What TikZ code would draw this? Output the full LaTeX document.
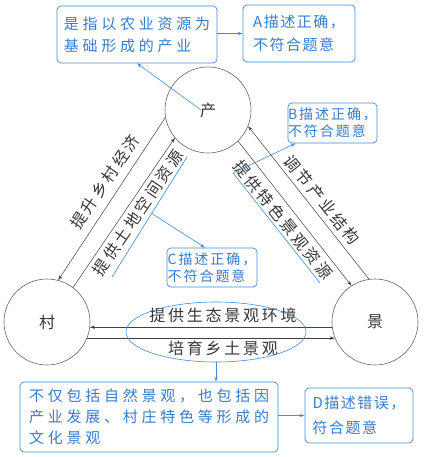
\documentclass[tikz,border=0pt]{standalone}
\usepackage{fontspec}
\setmainfont{Noto Sans CJK SC}
\newfontfamily\lblfont[LetterSpace=17]{Noto Sans CJK SC}
\newfontfamily\bigboxfont[LetterSpace=25]{Noto Sans CJK SC}
\newfontfamily\midboxfont[LetterSpace=10]{Noto Sans CJK SC}
\newfontfamily\smallboxfont[LetterSpace=14]{Noto Sans CJK SC}
\usetikzlibrary{shapes.geometric,arrows.meta,calc}
\definecolor{bl}{RGB}{70,140,215}
\definecolor{bltext}{RGB}{55,125,205}
\definecolor{dk}{RGB}{55,55,55}
\begin{document}
\begin{tikzpicture}[x=1pt,y=-1pt,
  circ/.style={circle,draw=black!60,line width=0.6pt,minimum size=86pt,inner sep=0pt,
    font=\fontsize{16}{16}\selectfont,text=dk},
  conn/.style={draw=black!75,line width=0.5pt,-{Stealth[length=5pt,width=3.2pt]}},
  elbl/.style={font=\lblfont\fontsize{16}{16}\selectfont,text=dk,inner sep=0pt},
  bbox/.style={draw=bl,line width=0.7pt,rounded corners=4pt,align=left,text=bltext,inner sep=0pt},
  bigtxt/.style={font=\bigboxfont\fontsize{15}{22}\selectfont},
  midtxt/.style={font=\midboxfont\fontsize{15}{23}\selectfont},
  smalltxt/.style={font=\smallboxfont\fontsize{14}{17}\selectfont},
  barrow/.style={draw=bl,line width=0.6pt,-{Stealth[length=5pt,width=3.2pt]}},
  bline/.style={draw=bl,line width=0.6pt}
]
\path[use as bounding box,fill=white] (0,0) rectangle (427,457);

% circles
\node[circ] (chan) at (208,110) {产};
\node[circ] (cun) at (47,322) {村};
\node[circ] (jing) at (375,322) {景};

% connectors between circles
\draw[conn] (chan.190) -- (cun.75);
\draw[conn] (cun.53) -- (chan.220);
\draw[conn] (jing.98) -- (chan.338);
\draw[conn] (chan.314) -- (jing.123);
\draw[conn] (jing.187) -- (cun.353);
\draw[conn] (cun.338) -- (jing.202);

% edge labels
\node[elbl,rotate=56] (l1) at (105,182) {提升乡村经济};
\node[elbl,rotate=56] (l2) at (138,213) {提供土地空间资源};
\node[elbl,rotate=-51] (l3) at (322,200) {调节产业结构};
\node[elbl,rotate=-51] (l4) at (283,220) {提供特色景观资源};
\node[elbl] (l5) at (223,315) {提供生态景观环境};
\node[elbl] (l6) at (223,348) {培育乡土景观};

% ellipse
\node[ellipse,draw=bl,line width=0.6pt,minimum width=180pt,minimum height=60pt] (ell) at (216,332) {};

% boxes
\node[bbox,bigtxt,minimum width=160pt,minimum height=57pt] (b1) at (137,34.5) {是指以农业资源为\\基础形成的产业};
\node[bbox,midtxt,minimum width=112pt,minimum height=57pt] (ba) at (299,33.5) {A描述正确，\\不符合题意};
\node[bbox,smalltxt,minimum width=89pt,minimum height=40pt] (bb) at (332.5,123) {B描述正确，\\不符合题意};
\node[bbox,smalltxt,minimum width=90pt,minimum height=39pt] (bc) at (212,267.5) {C描述正确，\\不符合题意};
\node[bbox,bigtxt,font=\bigboxfont\fontsize{15}{21}\selectfont,minimum width=258pt,minimum height=70pt] (bl) at (149,417) {不仅包括自然景观，也包括因\\产业发展、村庄特色等形成的\\文化景观};
\node[bbox,midtxt,font=\midboxfont\fontsize{15}{25}\selectfont,minimum width=108pt,minimum height=55pt] (bd) at (359,415.5) {D描述错误，\\符合题意};

% underlines
\coordinate (u1a) at (187,157);
\coordinate (u1b) at (112,277);
\coordinate (u2a) at (233,173);
\coordinate (u2b) at (320,283);
\draw[bline] (u1a) -- (u1b);
\draw[bline] (u2a) -- (u2b);

% blue arrows
\coordinate (p0) at ([xshift=-7pt]chan.center);
\draw[barrow] (p0) -- (b1.south);
\draw[barrow] (b1.east |- ba.west) -- (ba.west);
\draw[barrow] (u2a) -- ([xshift=8pt]bb.south west);
\coordinate (u1m) at ($(u1a)!0.47!(u1b)$);
\draw[barrow] (u1m) -- ([xshift=-7pt]bc.north);
\draw[barrow] (ell.south) -- (ell.south |- bl.north);
\draw[barrow] (bl.east |- bd.west) -- (bd.west);
\end{tikzpicture}
\end{document}
